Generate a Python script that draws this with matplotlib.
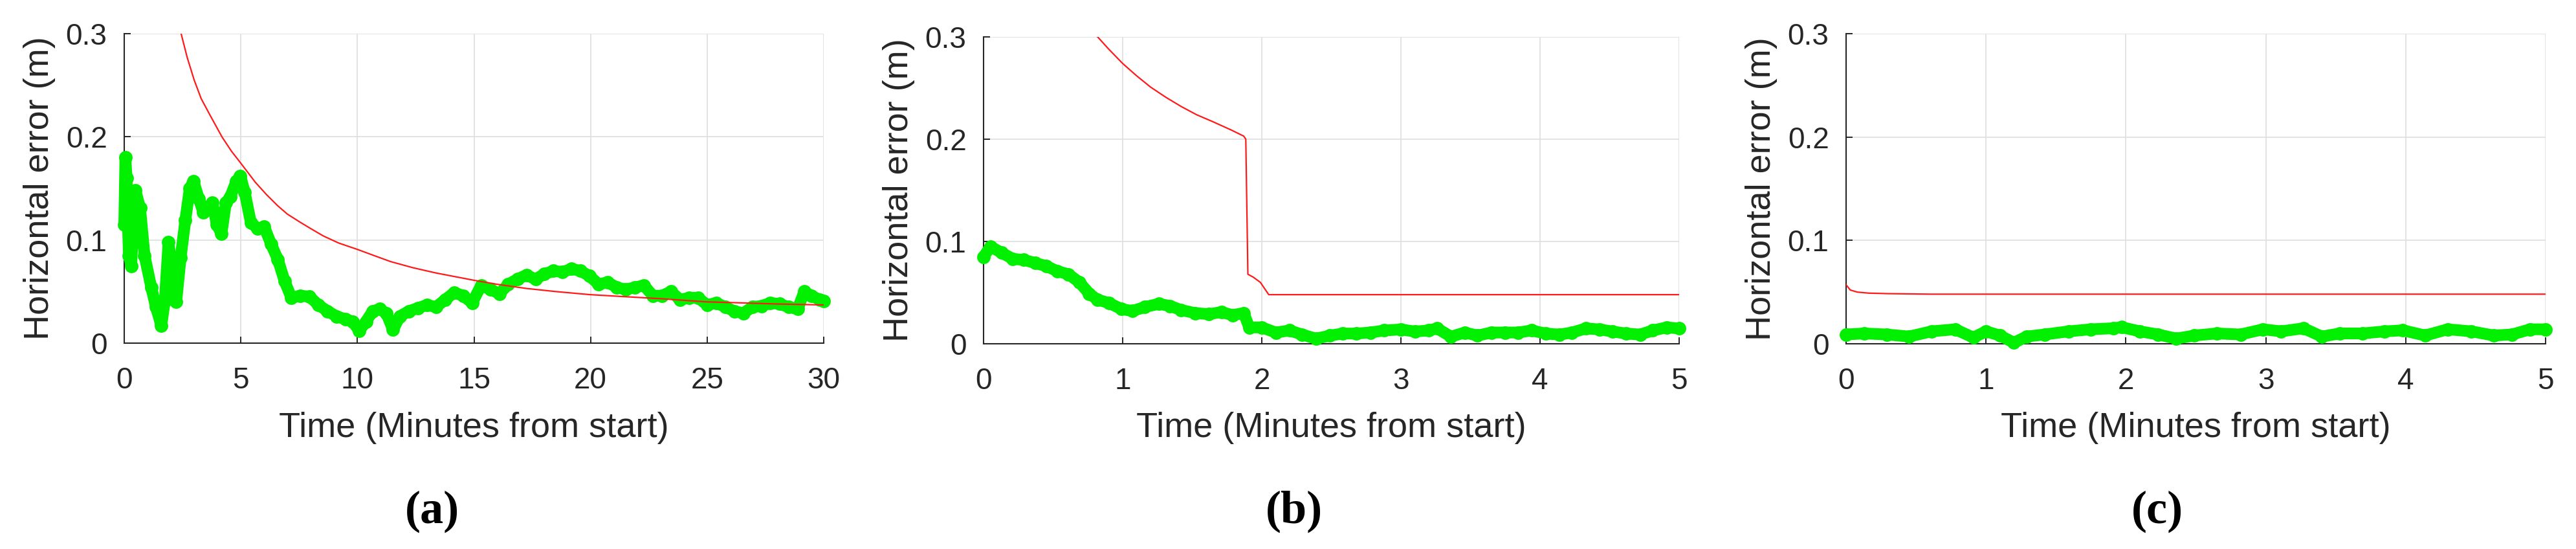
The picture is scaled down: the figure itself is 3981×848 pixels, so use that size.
import matplotlib
matplotlib.use("Agg")
import matplotlib.pyplot as plt

# ── Data ──
# panel (a): 30 minutes
t_green_a = [0, 0.05, 0.1, 0.15, 0.2, 0.3, 0.4, 0.48, 0.68, 0.87,
             1.16, 1.36, 1.59, 1.74, 1.9, 2.03, 2.23, 2.42, 2.62, 2.81,
             2.97, 3.2, 3.39, 3.58, 3.78, 3.97, 4.17, 4.36, 4.55, 4.81,
             4.98, 5.17, 5.43, 5.72, 6.0, 6.3, 6.59, 6.88, 7.17, 7.56,
             7.95, 8.33, 8.72, 9.11, 9.5, 9.79, 10.08, 10.37, 10.66, 10.95,
             11.24, 11.53, 11.82, 12.21, 12.6, 12.98, 13.37, 13.76, 14.15, 14.53,
             14.92, 15.31, 15.7, 16.09, 16.47, 16.86, 17.25, 17.64, 18.02, 18.41,
             18.8, 19.19, 19.57, 19.96, 20.35, 20.74, 21.12, 21.51, 21.9, 22.29,
             22.67, 23.06, 23.45, 23.84, 24.22, 24.61, 25.0, 25.39, 25.78, 26.16,
             26.55, 26.94, 27.33, 27.71, 28.1, 28.49, 28.88, 29.17, 29.46, 29.84,
             30.0]
err_green_a = [0.115, 0.18, 0.16, 0.12, 0.085, 0.075, 0.12, 0.148, 0.131, 0.085,
               0.054, 0.035, 0.017, 0.041, 0.098, 0.073, 0.040, 0.083, 0.119, 0.150,
               0.157, 0.140, 0.127, 0.132, 0.136, 0.115, 0.106, 0.136, 0.142, 0.157,
               0.162, 0.146, 0.117, 0.111, 0.113, 0.096, 0.081, 0.060, 0.044, 0.046,
               0.045, 0.037, 0.031, 0.026, 0.023, 0.021, 0.012, 0.021, 0.031, 0.033,
               0.029, 0.013, 0.026, 0.031, 0.034, 0.037, 0.035, 0.042, 0.049, 0.046,
               0.039, 0.056, 0.052, 0.048, 0.057, 0.062, 0.066, 0.062, 0.067, 0.070,
               0.069, 0.072, 0.070, 0.065, 0.057, 0.059, 0.054, 0.052, 0.054, 0.056,
               0.046, 0.046, 0.050, 0.042, 0.044, 0.044, 0.037, 0.039, 0.035, 0.031,
               0.029, 0.035, 0.036, 0.039, 0.038, 0.035, 0.033, 0.050, 0.046, 0.042,
               0.041]
t_red_a = [2.44, 2.7, 3.0, 3.3, 3.68, 4.19, 4.6, 4.98, 5.62, 6.1,
           6.59, 7.0, 7.56, 8.0, 8.53, 9.2, 9.98, 10.7, 11.43, 12.4,
           13.37, 14.98, 16.0, 17.25, 18.5, 19.98, 21.5, 23.06, 24.98, 26.5,
           27.9, 30.0]
err_red_a = [0.300, 0.277, 0.255, 0.237, 0.221, 0.200, 0.186, 0.175, 0.156, 0.144,
             0.133, 0.125, 0.117, 0.111, 0.104, 0.097, 0.091, 0.085, 0.079, 0.073,
             0.068, 0.061, 0.057, 0.053, 0.050, 0.047, 0.045, 0.043, 0.040, 0.039,
             0.038, 0.037]

# panel (b): 5 minutes
t_green_b = [0, 0.05, 0.13, 0.21, 0.29, 0.37, 0.45, 0.53, 0.61, 0.69,
             0.76, 0.82, 0.9, 0.99, 1.07, 1.16, 1.26, 1.34, 1.42, 1.52,
             1.62, 1.71, 1.79, 1.87, 1.91, 2.0, 2.1, 2.2, 2.29, 2.39,
             2.49, 2.58, 2.68, 2.78, 2.88, 3.0, 3.1, 3.2, 3.26, 3.36,
             3.46, 3.55, 3.65, 3.75, 3.84, 3.94, 4.04, 4.14, 4.23, 4.33,
             4.43, 4.52, 4.62, 4.72, 4.81, 4.91, 5.0]
err_green_b = [0.085, 0.095, 0.089, 0.083, 0.082, 0.079, 0.076, 0.071, 0.068, 0.060,
               0.049, 0.043, 0.040, 0.034, 0.032, 0.036, 0.039, 0.037, 0.033, 0.030,
               0.029, 0.031, 0.028, 0.030, 0.016, 0.016, 0.011, 0.013, 0.009, 0.005,
               0.008, 0.010, 0.010, 0.011, 0.013, 0.014, 0.012, 0.013, 0.015, 0.007,
               0.011, 0.008, 0.011, 0.011, 0.011, 0.013, 0.010, 0.009, 0.011, 0.015,
               0.014, 0.012, 0.010, 0.009, 0.013, 0.016, 0.015]
t_red_b = [0.82, 0.9, 1.0, 1.1, 1.2, 1.31, 1.42, 1.53, 1.65, 1.78,
           1.87, 1.885, 1.9, 1.94, 1.99, 2.05, 5.0]
err_red_b = [0.300, 0.288, 0.274, 0.262, 0.251, 0.241, 0.232, 0.224, 0.217, 0.209,
             0.203, 0.200, 0.068, 0.065, 0.060, 0.048, 0.048]

# panel (c): 5 minutes
t_green_c = [0, 0.13, 0.29, 0.45, 0.61, 0.78, 0.91, 1.0, 1.1, 1.2,
             1.29, 1.42, 1.59, 1.75, 1.91, 1.97, 2.1, 2.23, 2.36, 2.49,
             2.65, 2.82, 2.98, 3.11, 3.27, 3.4, 3.53, 3.69, 3.85, 3.98,
             4.14, 4.3, 4.47, 4.63, 4.76, 4.89, 5.0]
err_green_c = [0.009, 0.010, 0.009, 0.007, 0.012, 0.014, 0.006, 0.012, 0.008, 0.001,
               0.007, 0.009, 0.012, 0.014, 0.015, 0.016, 0.012, 0.009, 0.005, 0.008,
               0.010, 0.009, 0.014, 0.012, 0.015, 0.007, 0.010, 0.010, 0.012, 0.013,
               0.008, 0.014, 0.012, 0.008, 0.009, 0.014, 0.014]
t_red_c = [0, 0.03, 0.08, 0.16, 0.3, 0.6, 1.0, 2.0, 3.0, 4.0, 5.0]
err_red_c = [0.057, 0.052, 0.050, 0.049, 0.0485, 0.048, 0.048, 0.048, 0.048, 0.048, 0.048]

x_ticks_a = [0, 5, 10, 15, 20, 25, 30]
x_ticks_bc = [0, 1, 2, 3, 4, 5]
y_ticks = [0, 0.1, 0.2, 0.3]
y_tick_labels = ["0", "0.1", "0.2", "0.3"]
captions = ["(a)", "(b)", "(c)"]

# ── Style ──
GREEN = "#00f000"
RED = "#ff1a1a"
AXIS = "#262626"
GRID = "#dedede"
SANS = ["Liberation Sans", "DejaVu Sans"]

W, H = 3981, 848
fig = plt.figure(figsize=(W / 100, H / 100), dpi=100)

# axes boxes in pixels: left, right, top, bottom
boxes = [(192, 1273, 52, 530), (1520, 2595, 57, 531), (2853, 3934, 52, 531)]
caption_x = [668, 2000, 3334]

panels = [
    (t_green_a, err_green_a, t_red_a, err_red_a, 30, x_ticks_a),
    (t_green_b, err_green_b, t_red_b, err_red_b, 5, x_ticks_bc),
    (t_green_c, err_green_c, t_red_c, err_red_c, 5, x_ticks_bc),
]

for (l, r, t, b), (tg, eg, tr, er, xmax, xt), cx, cap in zip(boxes, panels, caption_x, captions):
    ax = fig.add_axes([l / W, 1 - b / H, (r - l) / W, (b - t) / H])
    ax.plot(tg, eg, color=GREEN, lw=13, marker="o", ms=15, mew=0,
            solid_capstyle="round", solid_joinstyle="round", clip_on=False, zorder=3)
    ax.plot(tr, er, color=RED, lw=1.6, zorder=4)

    ax.set_xlim(0, xmax)
    ax.set_ylim(0, 0.3)
    ax.set_xticks(xt)
    ax.set_xticklabels([str(v) for v in xt])
    ax.set_yticks(y_ticks)
    ax.set_yticklabels(y_tick_labels)

    ax.grid(True, color=GRID, lw=1.2)
    ax.set_axisbelow(True)
    for s in ("top", "right"):
        ax.spines[s].set_visible(False)
    for s in ("left", "bottom"):
        ax.spines[s].set_color(AXIS)
        ax.spines[s].set_linewidth(1.5)
    ax.tick_params(direction="in", length=7, width=1.4, color=AXIS,
                   labelcolor=AXIS, labelsize=33)
    ax.tick_params(axis="x", pad=26)
    ax.tick_params(axis="y", pad=19)
    for lab in ax.get_xticklabels() + ax.get_yticklabels():
        lab.set_family(SANS)

    ax.set_xlabel("Time (Minutes from start)", fontsize=39, family=SANS, color=AXIS)
    ax.xaxis.label.set_va("baseline")
    ax.xaxis.set_label_coords(0.5, -(675 - b) / (b - t))
    ax.set_ylabel("Horizontal error (m)", fontsize=39, family=SANS, color=AXIS)
    ax.yaxis.label.set_va("center")
    ax.yaxis.set_label_coords(-131 / (r - l), 0.5)

    fig.text(cx / W, 1 - 790 / H, cap, ha="center", va="center", fontsize=52,
             fontweight="bold", family=["Liberation Serif", "DejaVu Serif"])

fig.savefig("out.png", dpi=100, facecolor="white")
